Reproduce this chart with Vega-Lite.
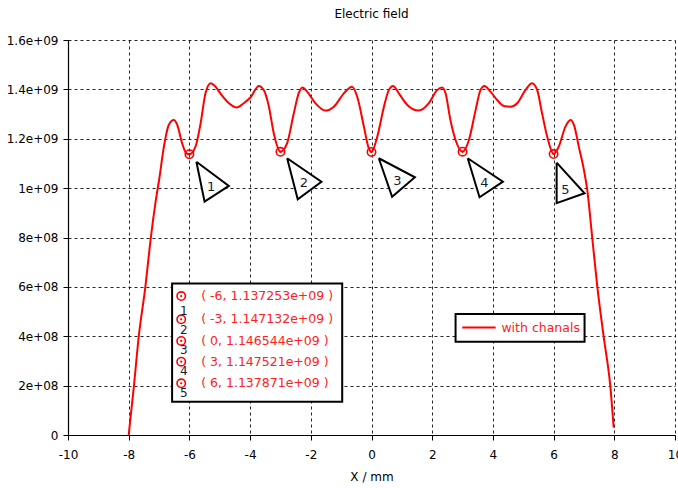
{
  "$schema": "https://vega.github.io/schema/vega-lite/v6.json",
  "width": 607,
  "height": 395,
  "autosize": "none",
  "padding": {"left": 68, "top": 40, "right": 3, "bottom": 53},
  "background": "white",
  "title": {"text": "Electric field", "fontSize": 12, "fontWeight": "normal", "font": "DejaVu Sans", "color": "#000", "offset": 13},
  "config": {
    "view": {"stroke": null},
    "font": "DejaVu Sans",
    "axis": {
      "domainColor": "#000", "domainWidth": 1.2, "tickColor": "#000", "tickSize": 5,
      "labelColor": "#000", "labelFont": "DejaVu Sans", "labelFontSize": 12,
      "titleFont": "DejaVu Sans", "titleFontSize": 12, "titleFontWeight": "normal", "titleColor": "#000",
      "gridColor": "#000", "gridDash": [3, 3], "gridOpacity": 0.85, "gridWidth": 1
    }
  },
  "datasets": {
    "curve": [
      {"x": -8.0, "y": 0},
      {"x": -7.83, "y": 1.96e8},
      {"x": -7.67, "y": 3.98e8},
      {"x": -7.45, "y": 6.01e8},
      {"x": -7.28, "y": 7.90e8},
      {"x": -7.12, "y": 9.39e8},
      {"x": -6.99, "y": 1.04e9},
      {"x": -6.84, "y": 1.168e9},
      {"x": -6.68, "y": 1.256e9},
      {"x": -6.51, "y": 1.276e9},
      {"x": -6.40, "y": 1.256e9},
      {"x": -6.24, "y": 1.182e9},
      {"x": -6.10, "y": 1.141e9},
      {"x": -6.00, "y": 1.137e9},
      {"x": -5.80, "y": 1.168e9},
      {"x": -5.63, "y": 1.263e9},
      {"x": -5.47, "y": 1.384e9},
      {"x": -5.30, "y": 1.425e9},
      {"x": -5.14, "y": 1.411e9},
      {"x": -4.98, "y": 1.384e9},
      {"x": -4.75, "y": 1.350e9},
      {"x": -4.45, "y": 1.327e9},
      {"x": -4.21, "y": 1.344e9},
      {"x": -3.99, "y": 1.367e9},
      {"x": -3.71, "y": 1.414e9},
      {"x": -3.55, "y": 1.397e9},
      {"x": -3.38, "y": 1.330e9},
      {"x": -3.22, "y": 1.222e9},
      {"x": -3.00, "y": 1.147e9},
      {"x": -2.78, "y": 1.182e9},
      {"x": -2.56, "y": 1.303e9},
      {"x": -2.40, "y": 1.384e9},
      {"x": -2.28, "y": 1.408e9},
      {"x": -2.12, "y": 1.391e9},
      {"x": -1.85, "y": 1.344e9},
      {"x": -1.52, "y": 1.314e9},
      {"x": -1.24, "y": 1.330e9},
      {"x": -0.91, "y": 1.384e9},
      {"x": -0.64, "y": 1.411e9},
      {"x": -0.47, "y": 1.370e9},
      {"x": -0.25, "y": 1.249e9},
      {"x": -0.09, "y": 1.161e9},
      {"x": 0.0, "y": 1.1465e9},
      {"x": 0.19, "y": 1.208e9},
      {"x": 0.41, "y": 1.330e9},
      {"x": 0.57, "y": 1.397e9},
      {"x": 0.71, "y": 1.414e9},
      {"x": 0.90, "y": 1.384e9},
      {"x": 1.18, "y": 1.337e9},
      {"x": 1.56, "y": 1.314e9},
      {"x": 1.89, "y": 1.344e9},
      {"x": 2.16, "y": 1.397e9},
      {"x": 2.33, "y": 1.408e9},
      {"x": 2.44, "y": 1.384e9},
      {"x": 2.60, "y": 1.276e9},
      {"x": 2.77, "y": 1.195e9},
      {"x": 3.00, "y": 1.1475e9},
      {"x": 3.21, "y": 1.195e9},
      {"x": 3.43, "y": 1.316e9},
      {"x": 3.59, "y": 1.397e9},
      {"x": 3.72, "y": 1.414e9},
      {"x": 3.92, "y": 1.391e9},
      {"x": 4.14, "y": 1.357e9},
      {"x": 4.36, "y": 1.333e9},
      {"x": 4.58, "y": 1.330e9},
      {"x": 4.80, "y": 1.344e9},
      {"x": 5.07, "y": 1.397e9},
      {"x": 5.29, "y": 1.425e9},
      {"x": 5.46, "y": 1.397e9},
      {"x": 5.62, "y": 1.303e9},
      {"x": 5.79, "y": 1.208e9},
      {"x": 6.00, "y": 1.138e9},
      {"x": 6.17, "y": 1.168e9},
      {"x": 6.39, "y": 1.249e9},
      {"x": 6.56, "y": 1.276e9},
      {"x": 6.67, "y": 1.256e9},
      {"x": 6.83, "y": 1.168e9},
      {"x": 7.00, "y": 1.073e9},
      {"x": 7.11, "y": 9.92e8},
      {"x": 7.27, "y": 8.03e8},
      {"x": 7.44, "y": 6.01e8},
      {"x": 7.65, "y": 3.98e8},
      {"x": 7.87, "y": 1.96e8},
      {"x": 7.98, "y": 3.0e7}
    ],
    "markers": [
      {"x": -6, "y": 1.137253e9, "n": "1"},
      {"x": -3, "y": 1.147132e9, "n": "2"},
      {"x": 0, "y": 1.146544e9, "n": "3"},
      {"x": 3, "y": 1.147521e9, "n": "4"},
      {"x": 6, "y": 1.137871e9, "n": "5"}
    ],
    "triangles": [
      {"tri": 1, "i": 0, "x": -5.77, "y": 1.107e9},
      {"tri": 1, "i": 1, "x": -4.70, "y": 1.009e9},
      {"tri": 1, "i": 2, "x": -5.50, "y": 9.45e8},
      {"tri": 1, "i": 3, "x": -5.77, "y": 1.107e9},
      {"tri": 2, "i": 0, "x": -2.78, "y": 1.121e9},
      {"tri": 2, "i": 1, "x": -1.65, "y": 1.026e9},
      {"tri": 2, "i": 2, "x": -2.43, "y": 9.55e8},
      {"tri": 2, "i": 3, "x": -2.78, "y": 1.121e9},
      {"tri": 3, "i": 0, "x": 0.24, "y": 1.121e9},
      {"tri": 3, "i": 1, "x": 1.43, "y": 1.044e9},
      {"tri": 3, "i": 2, "x": 0.68, "y": 9.65e8},
      {"tri": 3, "i": 3, "x": 0.24, "y": 1.121e9},
      {"tri": 4, "i": 0, "x": 3.17, "y": 1.121e9},
      {"tri": 4, "i": 1, "x": 4.33, "y": 1.026e9},
      {"tri": 4, "i": 2, "x": 3.56, "y": 9.63e8},
      {"tri": 4, "i": 3, "x": 3.17, "y": 1.121e9},
      {"tri": 5, "i": 0, "x": 6.10, "y": 1.103e9},
      {"tri": 5, "i": 1, "x": 7.02, "y": 9.79e8},
      {"tri": 5, "i": 2, "x": 6.10, "y": 9.39e8},
      {"tri": 5, "i": 3, "x": 6.10, "y": 1.103e9}
    ],
    "triLabels": [
      {"x": -5.28, "y": 1.006e9, "n": "1"},
      {"x": -2.23, "y": 1.022e9, "n": "2"},
      {"x": 0.85, "y": 1.030e9, "n": "3"},
      {"x": 3.72, "y": 1.022e9, "n": "4"},
      {"x": 6.39, "y": 9.92e8, "n": "5"}
    ],
    "boxes": [
      {"x": -6.57, "x2": -0.965, "y": 1.35e8, "y2": 6.14e8},
      {"x": 2.77, "x2": 7.02, "y": 3.78e8, "y2": 4.90e8}
    ],
    "boxMarks": [
      {"x": -6.27, "y": 5.63e8},
      {"x": -6.27, "y": 4.687e8},
      {"x": -6.27, "y": 3.808e8},
      {"x": -6.27, "y": 2.969e8},
      {"x": -6.27, "y": 2.094e8}
    ],
    "boxText": [
      {"x": -5.61, "y": 5.63e8, "label": "( -6, 1.137253e+09 )"},
      {"x": -5.61, "y": 4.687e8, "label": "( -3, 1.147132e+09 )"},
      {"x": -5.61, "y": 3.808e8, "label": "( 0, 1.146544e+09 )"},
      {"x": -5.61, "y": 2.969e8, "label": "( 3, 1.147521e+09 )"},
      {"x": -5.61, "y": 2.094e8, "label": "( 6, 1.137871e+09 )"},
      {"x": 4.28, "y": 4.35e8, "label": "with chanals"}
    ],
    "boxNums": [
      {"x": -6.18, "y": 5.035e8, "n": "1"},
      {"x": -6.18, "y": 4.253e8, "n": "2"},
      {"x": -6.18, "y": 3.443e8, "n": "3"},
      {"x": -6.18, "y": 2.605e8, "n": "4"},
      {"x": -6.18, "y": 1.713e8, "n": "5"}
    ],
    "legendLine": [
      {"x": 2.99, "x2": 4.09, "y": 4.35e8}
    ]
  },
  "encoding": {
    "x": {
      "field": "x", "type": "quantitative",
      "scale": {"domain": [-10, 10], "nice": false, "zero": false},
      "axis": {"values": [-10, -8, -6, -4, -2, 0, 2, 4, 6, 8, 10], "title": "X / mm", "labelPadding": 9, "titlePadding": 11, "labelFlush": false, "labelExpr": "'' + datum.value"}
    },
    "y": {
      "field": "y", "type": "quantitative",
      "scale": {"domain": [0, 1.6e9], "nice": false},
      "axis": {
        "values": [0, 2e8, 4e8, 6e8, 8e8, 1e9, 1.2e9, 1.4e9, 1.6e9],
        "title": null, "labelPadding": 5,
        "labelExpr": "datum.value == 0 ? '0' : replace(format(datum.value, '.2~e'), 'e+', 'e+0')"
      }
    }
  },
  "layer": [
    {
      "data": {"name": "curve"},
      "mark": {"type": "line", "color": "#ff0000", "strokeWidth": 2, "interpolate": "monotone"}
    },
    {
      "data": {"name": "triangles"},
      "mark": {"type": "line", "stroke": "#000", "fill": "#fff", "strokeWidth": 2, "strokeJoin": "miter"},
      "encoding": {"detail": {"field": "tri"}, "order": {"field": "i", "type": "quantitative"}}
    },
    {
      "data": {"name": "triLabels"},
      "mark": {"type": "text", "fontSize": 13, "color": "#1a1a2e", "align": "center", "baseline": "middle"},
      "encoding": {"text": {"field": "n"}}
    },
    {
      "data": {"name": "markers"},
      "mark": {"type": "point", "shape": "circle", "filled": false, "color": "#ff0000", "size": 70, "strokeWidth": 1.6, "opacity": 1}
    },
    {
      "data": {"name": "markers"},
      "mark": {"type": "point", "shape": "circle", "filled": true, "color": "#ff0000", "size": 5, "opacity": 1}
    },
    {
      "data": {"name": "boxes"},
      "mark": {"type": "rect", "fill": "#fff", "stroke": "#000", "strokeWidth": 2},
      "encoding": {"x2": {"field": "x2"}, "y2": {"field": "y2"}}
    },
    {
      "data": {"name": "boxMarks"},
      "mark": {"type": "point", "shape": "circle", "filled": false, "color": "#ff0000", "size": 70, "strokeWidth": 1.6, "opacity": 1}
    },
    {
      "data": {"name": "boxMarks"},
      "mark": {"type": "point", "shape": "circle", "filled": true, "color": "#ff0000", "size": 5, "opacity": 1}
    },
    {
      "data": {"name": "boxNums"},
      "mark": {"type": "text", "fontSize": 12, "color": "#1a1a2e", "align": "center", "baseline": "middle"},
      "encoding": {"text": {"field": "n"}}
    },
    {
      "data": {"name": "boxText"},
      "mark": {"type": "text", "fontSize": 12.5, "color": "#ff2020", "align": "left", "baseline": "middle"},
      "encoding": {"text": {"field": "label"}}
    },
    {
      "data": {"name": "legendLine"},
      "mark": {"type": "rule", "color": "#ff0000", "strokeWidth": 2},
      "encoding": {"x2": {"field": "x2"}}
    }
  ]
}
